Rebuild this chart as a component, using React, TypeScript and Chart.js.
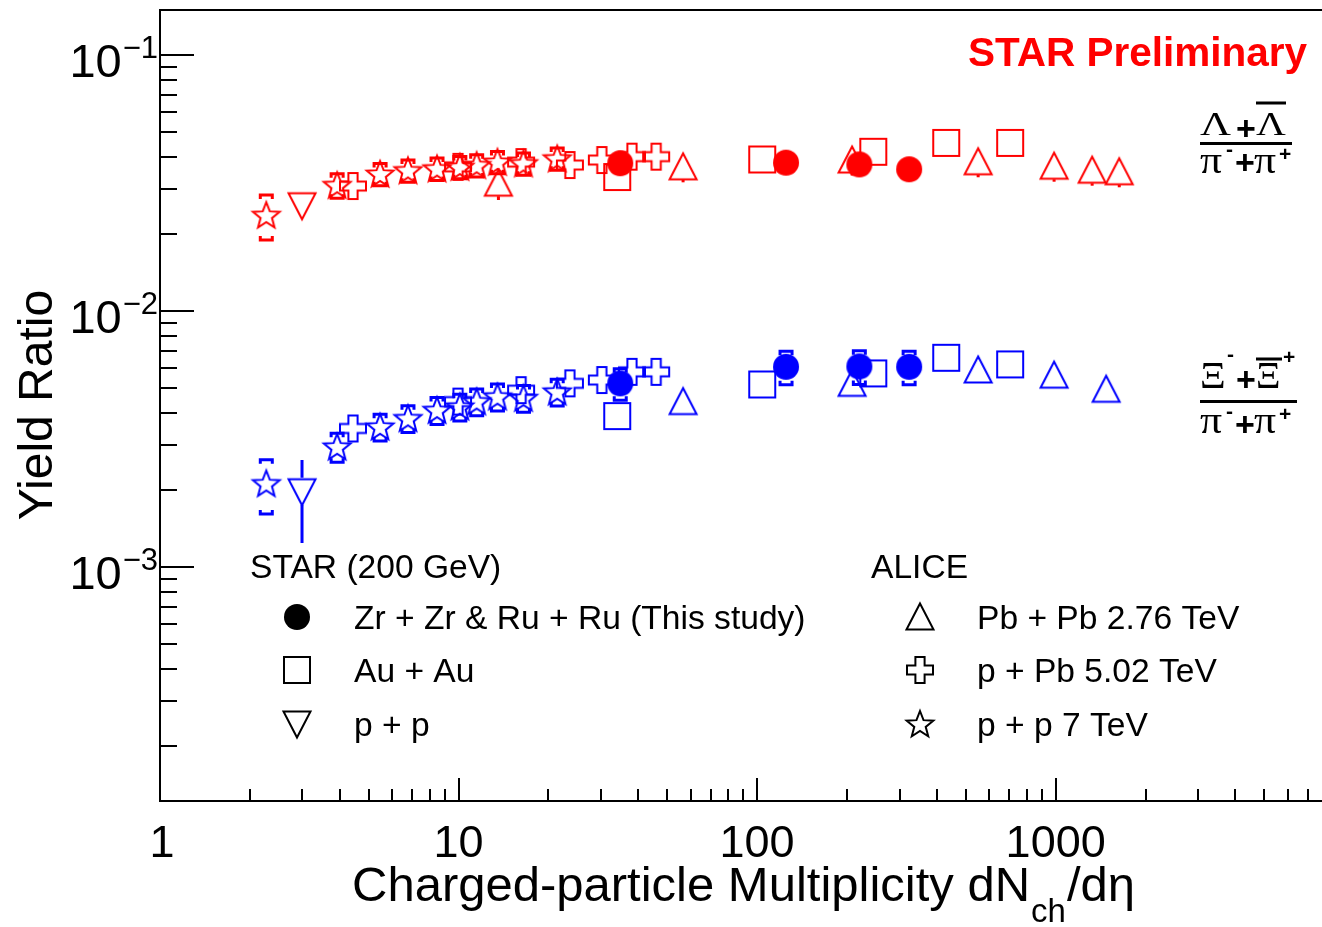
import React, { useEffect, useRef } from 'react';
import { Chart, registerables } from 'chart.js';

Chart.register(...registerables);

// ---------------- data ----------------
const zrRuMult = [34.8, 125, 220, 323];
const zrRuLambda = [0.0378, 0.038, 0.0374, 0.0358];
const zrRuXi = [0.00522, 0.00606, 0.00608, 0.00606];
const zrRuLambdaErr = [0.05, 0.05, 0.05, 0.05];
const zrRuXiErr = [0.14, 0.15, 0.15, 0.15];

const auAuMult = [34, 104, 245, 430, 704];
const auAuLambda = [0.0334, 0.0391, 0.0419, 0.0454, 0.0454];
const auAuXi = [0.00389, 0.00517, 0.00571, 0.00657, 0.00619];

const starPpMult = [2.99];
const starPpLambda = [0.0258];
const starPpXi = [0.00197];
const starPpXiErrUp = [0.33];
const starPpXiErrDown = [0.37];

const pbPbLambdaMult = [13.6, 56.5, 208, 550, 988, 1325, 1633];
const pbPbLambda = [0.0316, 0.0366, 0.0389, 0.0383, 0.0368, 0.0355, 0.035];
const pbPbLambdaErr = [0.14, 0.13, 0.13, 0.13, 0.13, 0.13, 0.13];
const pbPbXiMult = [56.5, 208, 550, 988, 1476];
const pbPbXi = [0.00443, 0.00522, 0.00589, 0.00562, 0.00495];

const pPbMult = [4.43, 9.96, 16.2, 23.6, 30.2, 38.1, 45.9];
const pPbLambda = [0.0308, 0.0366, 0.0382, 0.0372, 0.0389, 0.0401, 0.0401];
const pPbXi = [0.00348, 0.00443, 0.00491, 0.00522, 0.00538, 0.00579, 0.00579];

const pp7Mult = [2.27, 3.92, 5.46, 6.77, 8.47, 10.1, 11.5, 13.5, 16.5, 21.4];
const pp7Lambda = [0.0237, 0.031, 0.0343, 0.0354, 0.036, 0.0365, 0.0371, 0.0382, 0.0377, 0.0394];
const pp7Xi = [0.00212, 0.00295, 0.00353, 0.00381, 0.0041, 0.00423, 0.00443, 0.00463, 0.00457, 0.00484];
const pp7LambdaErr = [0.2, 0.11, 0.1, 0.1, 0.1, 0.1, 0.1, 0.1, 0.1, 0.1];
const pp7XiErr = [0.24, 0.13, 0.12, 0.12, 0.12, 0.12, 0.12, 0.12, 0.12, 0.12];

const xTickValues = [1, 10, 100, 1000];
const xTickLabels = ['1', '10', '100', '1000'];
const yTickValues = [0.1, 0.01, 0.001];
const yTickExponents = ['\u22121', '\u22122', '\u22123'];

const legendStarHeader = 'STAR (200 GeV)';
const legendAliceHeader = 'ALICE';
const legendStarItems = ['Zr + Zr & Ru + Ru (This study)', 'Au + Au', 'p + p'];
const legendAliceItems = ['Pb + Pb 2.76 TeV', 'p + Pb 5.02 TeV', 'p + p 7 TeV'];

const X_MIN = 1;
const X_MAX = 7800;
const Y_MIN = 1.22e-4;
const Y_MAX = 0.15;

const RED = '#ff0000';
const BLUE = '#0000ff';
const SANS = "'Liberation Sans', Arial, Helvetica, sans-serif";
const SERIF = "'Liberation Serif', 'Times New Roman', serif";

// ---------------- markers ----------------
type Shape = 'circle' | 'square' | 'triUp' | 'triDown' | 'cross' | 'star';

function makeMarker(shape: Shape, color: string): HTMLCanvasElement {
  const s = 36;
  const c = document.createElement('canvas');
  c.width = s;
  c.height = s;
  const g = c.getContext('2d')!;
  g.translate(s / 2, s / 2);
  g.strokeStyle = color;
  g.fillStyle = color;
  g.lineWidth = 2;
  g.lineJoin = 'miter';
  g.beginPath();
  if (shape === 'circle') {
    g.arc(0, 0, 13, 0, Math.PI * 2);
    g.fill();
  } else if (shape === 'square') {
    g.rect(-13, -13, 26, 26);
    g.stroke();
  } else if (shape === 'triUp') {
    g.moveTo(0, -13.5);
    g.lineTo(13.5, 12.5);
    g.lineTo(-13.5, 12.5);
    g.closePath();
    g.stroke();
  } else if (shape === 'triDown') {
    g.moveTo(0, 13.5);
    g.lineTo(13.5, -12.5);
    g.lineTo(-13.5, -12.5);
    g.closePath();
    g.stroke();
  } else if (shape === 'cross') {
    const a = 13;
    const b = 4.6;
    const pts = [[-b, -a], [b, -a], [b, -b], [a, -b], [a, b], [b, b], [b, a], [-b, a], [-b, b], [-a, b], [-a, -b], [-b, -b]];
    pts.forEach((p, i) => (i ? g.lineTo(p[0], p[1]) : g.moveTo(p[0], p[1])));
    g.closePath();
    g.stroke();
  } else if (shape === 'star') {
    const R = 14;
    const r = 6;
    for (let i = 0; i < 10; i++) {
      const ang = -Math.PI / 2 + (i * Math.PI) / 5;
      const rad = i % 2 === 0 ? R : r;
      const px = Math.cos(ang) * rad;
      const py = Math.sin(ang) * rad + 1;
      if (i === 0) g.moveTo(px, py);
      else g.lineTo(px, py);
    }
    g.closePath();
    g.stroke();
  }
  return c;
}

function series(label: string, xs: number[], ys: number[], marker: HTMLCanvasElement, color: string,
  up?: number[], down?: number[], style: string = 'bracket') {
  return {
    label,
    data: xs.map((x, i) => ({ x, y: ys[i] })),
    pointStyle: marker,
    pointRadius: 14,
    pointHoverRadius: 14,
    showLine: false,
    borderColor: color,
    backgroundColor: color,
    errUp: up,
    errDown: down || up,
    errStyle: style,
    errColor: color,
  };
}

function txt(ctx: CanvasRenderingContext2D, t: string, x: number, y: number, font: string, sx = 1) {
  ctx.save();
  ctx.font = font;
  ctx.translate(x, y);
  ctx.scale(sx, 1);
  ctx.textAlign = 'left';
  ctx.textBaseline = 'alphabetic';
  ctx.fillText(t, 0, 0);
  ctx.restore();
}

function hline(ctx: CanvasRenderingContext2D, x1: number, x2: number, y: number, lw: number) {
  ctx.lineWidth = lw;
  ctx.beginPath();
  ctx.moveTo(x1, y);
  ctx.lineTo(x2, y);
  ctx.stroke();
}

export default function App() {
  const ref = useRef<HTMLCanvasElement | null>(null);

  useEffect(() => {
    document.body.style.margin = '0';
    document.body.style.overflow = 'hidden';
    const canvas = ref.current!;

    const M = {
      rc: makeMarker('circle', RED), bc: makeMarker('circle', BLUE), kc: makeMarker('circle', '#000'),
      rs: makeMarker('square', RED), bs: makeMarker('square', BLUE), ks: makeMarker('square', '#000'),
      rd: makeMarker('triDown', RED), bd: makeMarker('triDown', BLUE), kd: makeMarker('triDown', '#000'),
      ru: makeMarker('triUp', RED), bu: makeMarker('triUp', BLUE), ku: makeMarker('triUp', '#000'),
      rx: makeMarker('cross', RED), bx: makeMarker('cross', BLUE), kx: makeMarker('cross', '#000'),
      rt: makeMarker('star', RED), bt: makeMarker('star', BLUE), kt: makeMarker('star', '#000'),
    };

    const datasets: any[] = [
      series('Zr+Zr & Ru+Ru Λ', zrRuMult, zrRuLambda, M.rc, RED, zrRuLambdaErr),
      series('Zr+Zr & Ru+Ru Ξ', zrRuMult, zrRuXi, M.bc, BLUE, zrRuXiErr),
      series('Au+Au Λ', auAuMult, auAuLambda, M.rs, RED),
      series('Au+Au Ξ', auAuMult, auAuXi, M.bs, BLUE),
      series('p+p 200 Λ', starPpMult, starPpLambda, M.rd, RED),
      series('p+p 200 Ξ', starPpMult, starPpXi, M.bd, BLUE, starPpXiErrUp, starPpXiErrDown, 'line'),
      series('Pb+Pb Λ', pbPbLambdaMult, pbPbLambda, M.ru, RED, pbPbLambdaErr, pbPbLambdaErr, 'line'),
      series('Pb+Pb Ξ', pbPbXiMult, pbPbXi, M.bu, BLUE),
      series('p+Pb Λ', pPbMult, pPbLambda, M.rx, RED),
      series('p+Pb Ξ', pPbMult, pPbXi, M.bx, BLUE),
      series('p+p 7 Λ', pp7Mult, pp7Lambda, M.rt, RED, pp7LambdaErr),
      series('p+p 7 Ξ', pp7Mult, pp7Xi, M.bt, BLUE, pp7XiErr),
    ];

    const decor = {
      id: 'decor',
      beforeDatasetsDraw(chart: any) {
        const ctx: CanvasRenderingContext2D = chart.ctx;
        const ys = chart.scales.y;
        ctx.save();
        chart.data.datasets.forEach((ds: any, di: number) => {
          if (!ds.errUp) return;
          const meta = chart.getDatasetMeta(di);
          ctx.strokeStyle = ds.errColor;
          meta.data.forEach((pt: any, i: number) => {
            const v = ds.data[i].y;
            const up = ds.errUp[i] || 0;
            const dn = ds.errDown[i] || 0;
            const x = pt.x;
            const y = pt.y;
            const yHi = ys.getPixelForValue(v * (1 + up));
            const yLo = ys.getPixelForValue(v * (1 - dn));
            if (ds.errStyle === 'line') {
              ctx.lineWidth = 3;
              ctx.beginPath();
              if (yHi < y - 14) { ctx.moveTo(x, yHi); ctx.lineTo(x, y - 14); }
              if (yLo > y + 13) { ctx.moveTo(x, y + 13); ctx.lineTo(x, yLo); }
              ctx.stroke();
            } else {
              ctx.lineWidth = 3;
              ctx.beginPath();
              ctx.moveTo(x - 6, yHi + 4); ctx.lineTo(x - 6, yHi); ctx.lineTo(x + 6, yHi); ctx.lineTo(x + 6, yHi + 4);
              ctx.moveTo(x - 6, yLo - 4); ctx.lineTo(x - 6, yLo); ctx.lineTo(x + 6, yLo); ctx.lineTo(x + 6, yLo - 4);
              ctx.stroke();
            }
          });
        });
        ctx.restore();
      },
      afterDraw(chart: any) {
        const ctx: CanvasRenderingContext2D = chart.ctx;
        const { left, top, right, bottom } = chart.chartArea;
        const xs = chart.scales.x;
        const ys = chart.scales.y;
        ctx.save();
        ctx.strokeStyle = '#000';
        ctx.fillStyle = '#000';
        // frame
        ctx.lineWidth = 2;
        ctx.beginPath();
        ctx.moveTo(right, top);
        ctx.lineTo(left, top);
        ctx.lineTo(left, bottom);
        ctx.lineTo(right, bottom);
        ctx.stroke();
        // y ticks (inward)
        for (let e = -5; e <= 0; e++) {
          for (let m = 1; m <= 9; m++) {
            const v = m * Math.pow(10, e);
            if (v < Y_MIN || v > Y_MAX) continue;
            const py = Math.round(ys.getPixelForValue(v));
            const len = m === 1 ? 34 : 17;
            hline(ctx, left, left + len, py, 2);
          }
        }
        // x ticks (inward)
        for (let e = 0; e <= 4; e++) {
          for (let m = 1; m <= 9; m++) {
            const v = m * Math.pow(10, e);
            if (v <= X_MIN || v > X_MAX) continue;
            const px = Math.round(xs.getPixelForValue(v));
            const len = m === 1 ? 23 : 12;
            ctx.lineWidth = 2;
            ctx.beginPath();
            ctx.moveTo(px, bottom);
            ctx.lineTo(px, bottom - len);
            ctx.stroke();
          }
        }
        // x tick labels
        ctx.font = `45px ${SANS}`;
        ctx.textAlign = 'center';
        ctx.textBaseline = 'alphabetic';
        xTickValues.forEach((v, i) => {
          const px = xs.getPixelForValue(v);
          ctx.fillText(xTickLabels[i], px + (i === 0 ? 2 : 0), 857);
        });
        // y tick labels 10^-n
        yTickValues.forEach((v, i) => {
          const py = ys.getPixelForValue(v);
          ctx.font = `31px ${SANS}`;
          ctx.textAlign = 'right';
          const sw = ctx.measureText(yTickExponents[i]).width;
          ctx.fillText(yTickExponents[i], 158, py + 3);
          ctx.font = `47px ${SANS}`;
          ctx.fillText('10', 158 - sw - 1, py + 22);
        });
        // axis titles
        ctx.textAlign = 'left';
        ctx.font = `49px ${SANS}`;
        const t1 = 'Charged-particle Multiplicity dN';
        let x0 = 352;
        ctx.fillText(t1, x0, 901);
        x0 += ctx.measureText(t1).width;
        ctx.font = `33px ${SANS}`;
        ctx.fillText('ch', x0 + 1, 922);
        x0 += ctx.measureText('ch').width + 2;
        ctx.font = `49px ${SANS}`;
        ctx.fillText('/d\u03b7', x0, 901);

        ctx.save();
        ctx.translate(52, 405);
        ctx.rotate(-Math.PI / 2);
        ctx.textAlign = 'center';
        ctx.font = `48px ${SANS}`;
        ctx.fillText('Yield Ratio', 0, 0);
        ctx.restore();

        // STAR Preliminary
        ctx.fillStyle = RED;
        ctx.font = `bold 40.5px ${SANS}`;
        ctx.textAlign = 'right';
        ctx.fillText('STAR Preliminary', 1307, 66);

        // ratio labels
        ctx.fillStyle = '#000';
        ctx.strokeStyle = '#000';
        const big = `33px ${SERIF}`;
        const plus = `bold 34px ${SANS}`;
        const sup = `bold 21px ${SANS}`;
        const pi = `38px ${SERIF}`;
        const xi = `38px ${SERIF}`;
        // Lambda label
        txt(ctx, '\u039b', 1200, 135, big, 1.3);
        txt(ctx, '+', 1236, 139.5, plus);
        txt(ctx, '\u039b', 1256, 135, big, 1.25);
        hline(ctx, 1256, 1286, 103, 3);
        hline(ctx, 1200, 1292, 143.5, 3);
        txt(ctx, '\u03c0', 1200, 173, pi, 1.15);
        txt(ctx, '-', 1226, 156, sup);
        txt(ctx, '+', 1235, 173.5, plus);
        txt(ctx, '\u03c0', 1254, 173, pi, 1.15);
        txt(ctx, '+', 1279, 160.5, sup);
        // Xi label
        txt(ctx, '\u039e', 1200, 388, xi, 1.05);
        txt(ctx, '-', 1227, 361, sup);
        txt(ctx, '+', 1236, 391, plus);
        txt(ctx, '\u039e', 1256, 388, xi, 1.0);
        hline(ctx, 1256, 1282, 359, 3);
        txt(ctx, '+', 1283, 363.5, sup);
        hline(ctx, 1200, 1297, 401.5, 3);
        txt(ctx, '\u03c0', 1200, 433, pi, 1.15);
        txt(ctx, '-', 1226, 418, sup);
        txt(ctx, '+', 1235, 436, plus);
        txt(ctx, '\u03c0', 1254, 433, pi, 1.15);
        txt(ctx, '+', 1279, 421, sup);

        // legend
        ctx.fillStyle = '#000';
        ctx.textAlign = 'left';
        ctx.font = `33.6px ${SANS}`;
        ctx.fillText(legendStarHeader, 250, 578);
        ctx.fillText(legendAliceHeader, 871, 578);
        const rowsY = [617, 670, 724];
        const leftMarkers = [M.kc, M.ks, M.kd];
        const rightMarkers = [M.ku, M.kx, M.kt];
        rowsY.forEach((ry, i) => {
          const lm = leftMarkers[i];
          ctx.drawImage(lm, 297 - lm.width / 2, ry - lm.height / 2);
          const rm = rightMarkers[i];
          ctx.drawImage(rm, 920 - rm.width / 2, ry - rm.height / 2);
          ctx.fillText(legendStarItems[i], 354, ry + 12);
          ctx.fillText(legendAliceItems[i], 977, ry + 12);
        });
        ctx.restore();
      },
    };

    const chart = new Chart(canvas, {
      type: 'scatter',
      data: { datasets },
      options: {
        animation: false,
        responsive: false,
        events: [],
        layout: { autoPadding: false, padding: { left: 160, top: 10, right: 0, bottom: 126 } },
        plugins: { legend: { display: false }, tooltip: { enabled: false } },
        scales: {
          x: { type: 'logarithmic', min: X_MIN, max: X_MAX, display: false, bounds: 'data' },
          y: { type: 'logarithmic', min: Y_MIN, max: Y_MAX, display: false, bounds: 'data' },
        },
      },
      plugins: [decor],
    } as any);

    return () => chart.destroy();
  }, []);

  return (
    <div style={{ position: 'absolute', left: 0, top: 0, width: 1322, height: 927, background: '#fff' }}>
      <canvas ref={ref} width={1322} height={927} style={{ display: 'block', width: 1322, height: 927 }} />
    </div>
  );
}
